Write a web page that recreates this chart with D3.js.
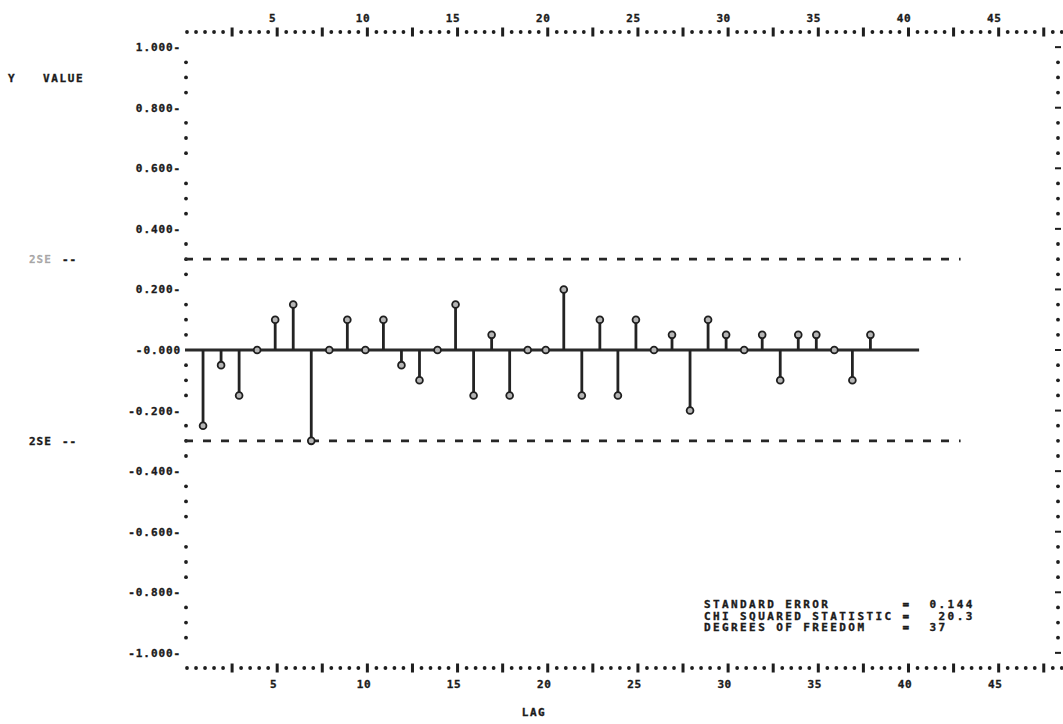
<!DOCTYPE html>
<html>
<head>
<meta charset="utf-8">
<script src="https://cdn.jsdelivr.net/npm/d3@7"></script>
<style>
  html, body { margin: 0; padding: 0; background: #fff; }
  svg text {
    font-family: "DejaVu Sans Mono", "Liberation Mono", monospace;
    font-weight: bold;
    font-size: 11px;
    fill: #1b1b1b;
    stroke: #1b1b1b;
    stroke-width: 0.35px;
  }
</style>
</head>
<body>
<svg id="chart" width="1063" height="724"></svg>
<script>
// Sample autocorrelations by lag, printed at a resolution of 0.05
const lags = d3.range(1, 39);
const acf = [
  -0.25, -0.05, -0.15,  0.00,  0.10,  0.15, -0.30,  0.00,  0.10,  0.00,
   0.10, -0.05, -0.10,  0.00,  0.15, -0.15,  0.05, -0.15,  0.00,  0.00,
   0.20, -0.15,  0.10, -0.15,  0.10,  0.00,  0.05, -0.20,  0.10,  0.05,
   0.00,  0.05, -0.10,  0.05,  0.05,  0.00, -0.10,  0.05
];

// Axis labelling
const lagTicks = [5, 10, 15, 20, 25, 30, 35, 40, 45];
const valueTicks = [1.0, 0.8, 0.6, 0.4, 0.2, 0.0, -0.2, -0.4, -0.6, -0.8, -1.0];
const valueTickLabels = ["1.000-", "0.800-", "0.600-", "0.400-", "0.200-", "-0.000",
                         "-0.200-", "-0.400-", "-0.600-", "-0.800-", "-1.000-"];

// Summary statistics printed under the plot
const statLabels = ["STANDARD ERROR", "CHI SQUARED STATISTIC", "DEGREES OF FREEDOM"];
const statValues = ["0.144", "20.3", "37"];
const statWidths = [7, 7, 4];

// Printer grid: one text row is 0.05 on the value axis, one lag is two columns
const rowStep = 0.05;
const stdError = +statValues[0];
const lagDomain = [0, 48.4];
const zeroLineEndLag = 40.7;
const bandEndLag = 43;

const svg = d3.select("#chart");

const x = d3.scaleLinear().domain(lagDomain).range([185, 1058]);
const y = d3.scaleLinear().domain([-1.05, 1.05]).range([668, 32]);

// Confidence band at two standard errors, rounded to the nearest printed row
const band = Math.round(2 * stdError / rowStep) * rowStep;

const ink = "#1e1e1e";

// ---- frame made of printed characters ----
const colPositions = d3.range(0, 98).map(k => k * 0.5);
const isBarCol = v => v > 0 && Math.abs(v / 2.5 - Math.round(v / 2.5)) < 1e-9;

[y(1.05), y(-1.05)].forEach(py => {
  const g = svg.append("g");
  g.selectAll("circle")
    .data(colPositions.filter(v => !isBarCol(v)))
    .join("circle")
    .attr("cx", d => x(d) + 2)
    .attr("cy", py)
    .attr("r", 1.9)
    .attr("fill", ink);
  g.selectAll("rect")
    .data(colPositions.filter(isBarCol))
    .join("rect")
    .attr("x", d => x(d) + 0.5)
    .attr("y", py - 4.5)
    .attr("width", 3)
    .attr("height", 9)
    .attr("fill", ink);
});

const rows = d3.range(-20, 21);
const isLabelRow = r => r % 4 === 0;

// left column of dots (label rows carry their own dash)
svg.append("g").selectAll("circle")
  .data(rows.filter(r => !isLabelRow(r)))
  .join("circle")
  .attr("cx", x(0) + 1)
  .attr("cy", r => y(r * rowStep))
  .attr("r", 1.9)
  .attr("fill", ink);

// right column: dots, with a short dash on label rows
const right = svg.append("g");
right.selectAll("circle")
  .data(rows.filter(r => !isLabelRow(r)))
  .join("circle")
  .attr("cx", x(lagDomain[1]))
  .attr("cy", r => y(r * rowStep))
  .attr("r", 1.9)
  .attr("fill", ink);
right.selectAll("rect")
  .data(rows.filter(isLabelRow))
  .join("rect")
  .attr("x", x(lagDomain[1]) - 3)
  .attr("y", r => y(r * rowStep) - 1)
  .attr("width", 6)
  .attr("height", 2)
  .attr("fill", ink);

// ---- axis labels ----
const styleAxis = g => {
  g.select(".domain").remove();
  g.selectAll("line").remove();
  g.selectAll("text")
    .attr("fill", ink)
    .style("font-family", "'DejaVu Sans Mono', monospace")
    .style("font-weight", "bold")
    .style("font-size", "11px")
    .style("letter-spacing", "0.6px");
};

svg.append("g")
  .attr("transform", `translate(-2,${y(-1.05)})`)
  .call(d3.axisBottom(x).tickValues(lagTicks).tickSize(0).tickPadding(12).tickFormat(d3.format("d")))
  .call(styleAxis);

svg.append("g")
  .attr("transform", `translate(-3,${y(1.05)})`)
  .call(d3.axisTop(x).tickValues(lagTicks).tickSize(0).tickPadding(10).tickFormat(d3.format("d")))
  .call(styleAxis);

svg.append("g")
  .attr("transform", `translate(${x(0) - 2},0)`)
  .call(d3.axisLeft(y).tickValues(valueTicks).tickSize(0).tickPadding(2)
    .tickFormat((d, i) => valueTickLabels[i]))
  .call(styleAxis)
  .call(g => g.selectAll("text").style("letter-spacing", "0.9px"));

svg.append("text").attr("x", 8).attr("y", y(0.9) + 5).text("Y");
svg.append("text").attr("x", 43).attr("y", y(0.9) + 5)
  .style("letter-spacing", "1.6px").text("VALUE");

svg.append("text").attr("x", 534).attr("y", 716)
  .attr("text-anchor", "middle").style("letter-spacing", "1.5px").text("LAG");

// band labels on the left margin
[band, -band].forEach((b, i) => {
  svg.append("text").attr("x", 29).attr("y", y(b) + 4)
    .attr("fill-opacity", i === 0 ? 0.35 : 1)
    .attr("stroke-opacity", i === 0 ? 0.35 : 1)
    .style("letter-spacing", "1px").text("2SE");
  svg.append("text").attr("x", 62).attr("y", y(b) + 4)
    .style("letter-spacing", "1px").text("--");
});

// ---- plot body ----
// two-standard-error dashed lines
svg.append("g").selectAll("line")
  .data([band, -band])
  .join("line")
  .attr("x1", x(0))
  .attr("x2", x(bandEndLag))
  .attr("y1", d => y(d))
  .attr("y2", d => y(d))
  .attr("stroke", "#262626")
  .attr("stroke-width", 2.8)
  .attr("stroke-dasharray", "8,10");

// zero line
svg.append("line")
  .attr("x1", x(0))
  .attr("x2", x(zeroLineEndLag))
  .attr("y1", y(0))
  .attr("y2", y(0))
  .attr("stroke", "#2a2a2a")
  .attr("stroke-width", 2.8);

const points = lags.map((lag, i) => ({ lag, value: acf[i] }));

// stems
svg.append("g").selectAll("line")
  .data(points.filter(d => d.value !== 0))
  .join("line")
  .attr("x1", d => x(d.lag))
  .attr("x2", d => x(d.lag))
  .attr("y1", y(0))
  .attr("y2", d => y(d.value))
  .attr("stroke", "#232323")
  .attr("stroke-width", 2.8);

// end markers
svg.append("g").selectAll("circle")
  .data(points)
  .join("circle")
  .attr("cx", d => x(d.lag))
  .attr("cy", d => y(d.value))
  .attr("r", 3.4)
  .attr("fill", "#b5b5b5")
  .attr("stroke", "#1f1f1f")
  .attr("stroke-width", 1.8);

// ---- summary block ----
const statTop = 608;
statLabels.forEach((label, i) => {
  const line = label.padEnd(22, " ") + "=" + statValues[i].padStart(statWidths[i], " ");
  svg.append("text")
    .attr("x", 704)
    .attr("y", statTop + i * 11.7)
    .attr("xml:space", "preserve")
    .style("white-space", "pre")
    .style("letter-spacing", "2.4px")
    .text(line);
});
</script>
</body>
</html>
